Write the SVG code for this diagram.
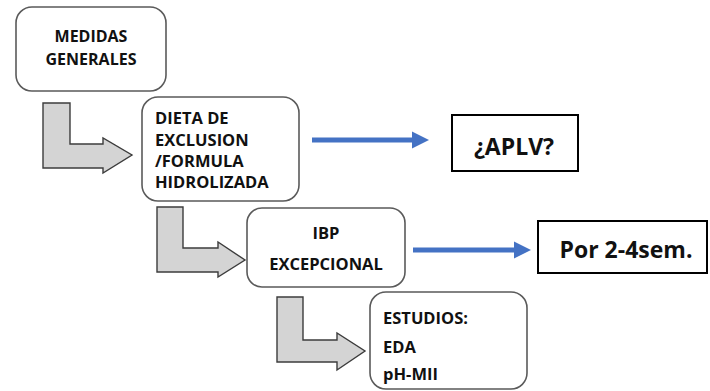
<svg xmlns="http://www.w3.org/2000/svg" width="710" height="391" viewBox="0 0 710 391">
  <defs>
    <style>
      .step { fill: #ffffff; stroke: #5a5a5a; stroke-width: 1.6; }
      .result { fill: #ffffff; stroke: #000000; stroke-width: 2; }
      .bend { fill: #d4d4d4; stroke: #3c3c3c; stroke-width: 1.4; stroke-linejoin: miter; }
      .lbl { font-family: "Open Sans", "Liberation Sans", sans-serif; font-weight: bold; font-size: 16.5px; fill: #111111; }
      .tight { font-size: 16px; }
      .big { font-family: "Open Sans", "Liberation Sans", sans-serif; font-weight: bold; font-size: 23px; fill: #111111; }
      .flow { stroke: #4472c4; stroke-width: 5; fill: none; }
    </style>
    <marker id="blueHead" viewBox="0 0 10 10" refX="0" refY="5" markerWidth="3.4" markerHeight="3.6" orient="auto" markerUnits="strokeWidth">
      <path d="M0,0 L10,5 L0,10 Z" fill="#4472c4"/>
    </marker>
  </defs>

  <rect width="710" height="391" fill="#ffffff"/>

  <!-- step boxes -->
  <g id="medidas">
    <rect class="step" x="16" y="7" width="150" height="84" rx="16"/>
    <text class="lbl tight" x="91" y="42" text-anchor="middle">MEDIDAS</text>
    <text class="lbl tight" x="91" y="64.5" text-anchor="middle">GENERALES</text>
  </g>

  <g id="dieta">
    <rect class="step" x="142" y="97" width="157" height="104" rx="16"/>
    <text class="lbl" x="155" y="124">DIETA DE</text>
    <text class="lbl" x="155" y="146">EXCLUSION</text>
    <text class="lbl" x="155" y="167">/FORMULA</text>
    <text class="lbl" x="155" y="188">HIDROLIZADA</text>
  </g>

  <g id="ibp">
    <rect class="step" x="247" y="208" width="158" height="79" rx="15"/>
    <text class="lbl" x="326" y="239" text-anchor="middle">IBP</text>
    <text class="lbl" x="326" y="270" text-anchor="middle">EXCEPCIONAL</text>
  </g>

  <g id="estudios">
    <rect class="step" x="370" y="292" width="157" height="97" rx="16"/>
    <text class="lbl" x="383" y="324">ESTUDIOS:</text>
    <text class="lbl" x="383" y="353">EDA</text>
    <text class="lbl" x="383" y="380">pH-MII</text>
  </g>

  <!-- result boxes -->
  <g id="aplv">
    <rect class="result" x="452" y="115" width="126" height="56"/>
    <text class="big" x="514" y="155" text-anchor="middle">¿APLV?</text>
  </g>

  <g id="duracion">
    <rect class="result" x="538" y="221" width="169" height="52"/>
    <text class="big" x="626" y="258" text-anchor="middle">Por 2-4sem.</text>
  </g>

  <!-- connectors -->
  <g id="connectors">
    <path class="bend" d="M43,103 H70 V144 H103 V138 L132,155 L103,173 V168 H43 Z"/>
    <path class="bend" d="M157,207 H183 V248 H218 V242 L245,260 L218,277 V272 H157 Z"/>
    <path class="bend" d="M277,297 H303 V340 H337 V333 L365,351 L337,370 V362 H277 Z"/>
    <line class="flow" x1="312" y1="140" x2="412" y2="140" marker-end="url(#blueHead)"/>
    <line class="flow" x1="413" y1="250" x2="514" y2="250" marker-end="url(#blueHead)"/>
  </g>
</svg>
